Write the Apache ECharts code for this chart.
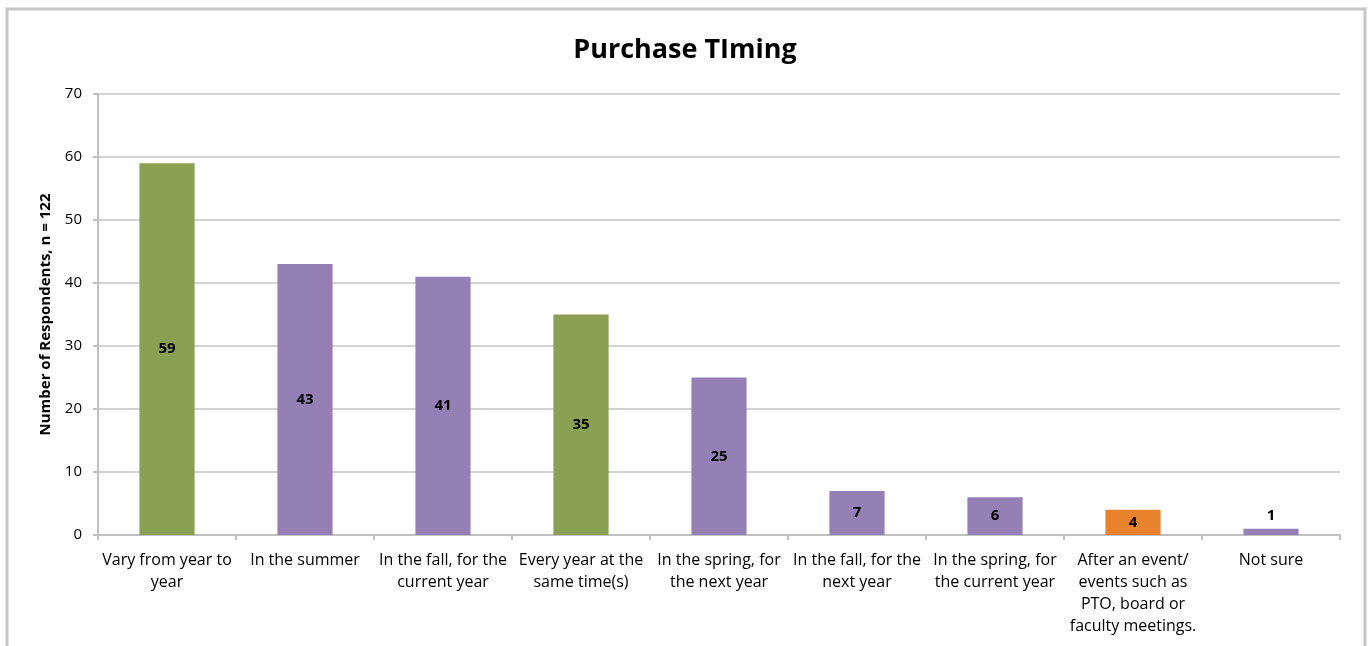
<!DOCTYPE html>
<html>
<head>
<meta charset="utf-8">
<title>Purchase TIming</title>
<style>
  html, body { margin: 0; padding: 0; background: #fff; }
  #chart { width: 1370px; height: 646px; }
</style>
<script src="https://cdn.jsdelivr.net/npm/echarts@6/dist/echarts.min.js"></script>
</head>
<body>
<div id="chart"></div>
<script>
// Purchase timing survey responses
const categories = [
  'Vary from year to\nyear',
  'In the summer',
  'In the fall, for the\ncurrent year',
  'Every year at the\nsame time(s)',
  'In the spring, for\nthe next year',
  'In the fall, for the\nnext year',
  'In the spring, for\nthe current year',
  'After an event/\nevents such as\nPTO, board or\nfaculty meetings.',
  'Not sure'
];
const respondents = [59, 43, 41, 35, 25, 7, 6, 4, 1];
const barGroups = ['green', 'purple', 'purple', 'green', 'purple', 'purple', 'purple', 'orange', 'purple'];
const yTicks = [0, 10, 20, 30, 40, 50, 60, 70];

const palette = { green: '#8aa052', purple: '#9580b6', orange: '#e8822c' };
const font = '"Open Sans", Lato, "DejaVu Sans", sans-serif';

const chart = echarts.init(document.getElementById('chart'), null, { renderer: 'canvas' });

chart.setOption({
  animation: false,
  backgroundColor: '#ffffff',
  graphic: [{
    type: 'rect',
    shape: { x: 7, y: 9, width: 1358, height: 700 },
    style: { fill: 'none', stroke: '#c6c6c6', lineWidth: 3 },
    silent: true,
    z: -1
  }],
  title: {
    text: 'Purchase TIming',
    left: 'center',
    top: 32,
    textStyle: { fontFamily: font, fontSize: 27, fontWeight: 'bold', color: '#000' }
  },
  grid: { left: 98, right: 30, top: 94, bottom: 111, containLabel: false },
  xAxis: {
    type: 'category',
    data: categories,
    axisLine: { show: true, lineStyle: { color: '#c0c0c0', width: 2 } },
    axisTick: { show: true, alignWithLabel: false, length: 5, lineStyle: { color: '#c0c0c0', width: 2 } },
    axisLabel: {
      interval: 0,
      margin: 14,
      lineHeight: 22,
      fontFamily: font,
      fontSize: 16,
      color: '#000',
      verticalAlign: 'top'
    }
  },
  yAxis: {
    type: 'value',
    min: yTicks[0],
    max: yTicks[yTicks.length - 1],
    interval: 10,
    name: 'Number of Respondents, n = 122',
    nameLocation: 'middle',
    nameGap: 45,
    nameRotate: 90,
    nameTextStyle: { fontFamily: font, fontSize: 15, fontWeight: 'bold', color: '#000' },
    axisLine: { show: true, lineStyle: { color: '#c0c0c0', width: 2 } },
    axisTick: { show: true, inside: false, length: 5, lineStyle: { color: '#c0c0c0', width: 2 } },
    axisLabel: { margin: 16, fontFamily: font, fontSize: 15, color: '#000' },
    splitLine: { show: true, lineStyle: { color: '#d2d2d2', width: 2 } }
  },
  series: [{
    type: 'bar',
    barWidth: '40%',
    data: respondents.map((v, i) => ({
      value: v,
      itemStyle: { color: palette[barGroups[i]] },
      label: v < 3 ? { position: 'top', distance: 5 } : { position: 'inside' }
    })),
    label: {
      show: true,
      fontFamily: font,
      fontSize: 15,
      fontWeight: 'bold',
      color: '#000'
    }
  }]
});
</script>
</body>
</html>
